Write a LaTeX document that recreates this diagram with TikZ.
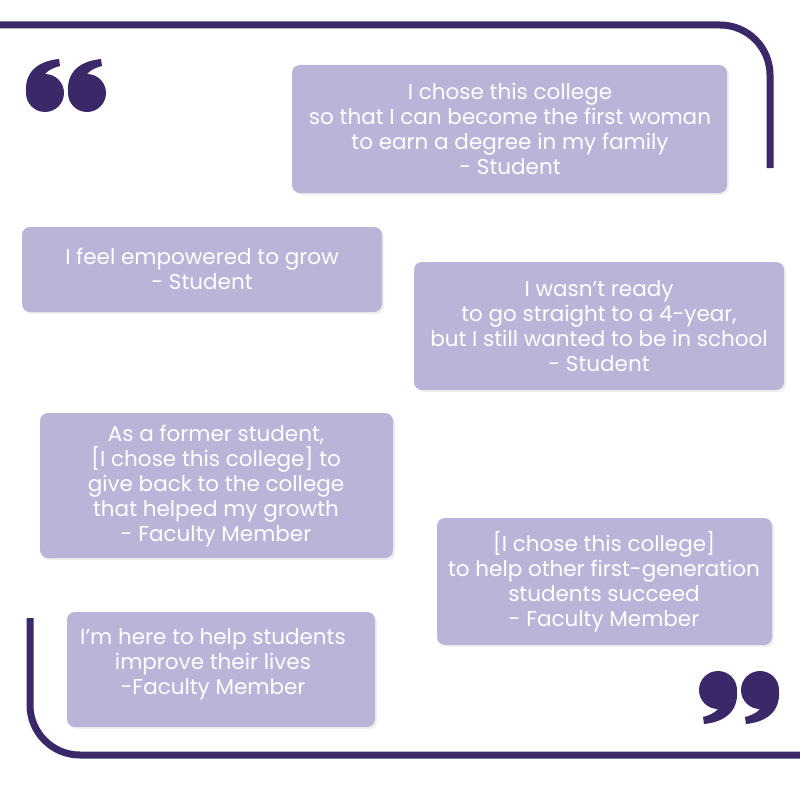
\documentclass[tikz,border=0pt]{standalone}
\usepackage{fontspec}
\setmainfont{Poppins}
\usetikzlibrary{shadows}
\definecolor{frame}{HTML}{3A2868}
\definecolor{boxc}{HTML}{BAB4D9}
\tikzset{
  qbox/.style={fill=boxc, rounded corners=8pt, drop shadow={opacity=0.12, shadow xshift=2pt, shadow yshift=-2pt}},
  qtext/.style={text=white, align=center, font=\fontsize{21.5}{25}\selectfont},
  framel/.style={draw=frame, line width=7pt, rounded corners=50pt},
  qfill/.style={fill=frame},
  pics/qm/.style={code={
    \fill[qfill] (0,0) circle (19);
    \fill[qfill] (-19,-2) .. controls (-20,-22) and (-6,-32) .. (14,-34) -- (15,-27) .. controls (3,-24) and (-3,-18) .. (-2,-12) -- cycle;
  }}
}
\begin{document}
\begin{tikzpicture}[x=1pt,y=-1pt]
\useasboundingbox[fill=white] (0,0) rectangle (800,800);
\draw[framel] (0,25) -- (770,25) -- (770,168);
\draw[framel] (30,618) -- (30,755) -- (800.1,755);
\pic (qa) at (45,93) {qm};
\pic (qb) at (87,93) {qm};
\pic[rotate=180] (qc) at (718,690) {qm};
\pic[rotate=180] (qd) at (760,690) {qm};
\path[qbox] (292,65) rectangle (727,193);
\node[qtext] (t1) at (510,129) {I chose this college\\so that I can become the first woman\\to earn a degree in my family\\- Student};
\path[qbox] (22,227) rectangle (382,312);
\node[qtext] (t2) at (202,269) {I feel empowered to grow\\- Student};
\path[qbox] (414,262) rectangle (784,390);
\node[qtext] (t3) at (599,326) {I wasn’t ready\\to go straight to a 4-year,\\but I still wanted to be in school\\- Student};
\path[qbox] (40,413) rectangle (393,558);
\node[qtext] (t4) at (216,486) {As a former student,\\{[}I chose this college] to\\give back to the college\\that helped my growth\\- Faculty Member};
\path[qbox] (437,518) rectangle (772,645);
\node[qtext] (t5) at (604,582) {{[}I chose this college]\\to help other first-generation\\students succeed\\- Faculty Member};
\path[qbox] (67,612) rectangle (375,727);
\node[qtext] (t6) at (213,664) {I’m here to help students\\improve their lives\\-Faculty Member};
\end{tikzpicture}
\end{document}
